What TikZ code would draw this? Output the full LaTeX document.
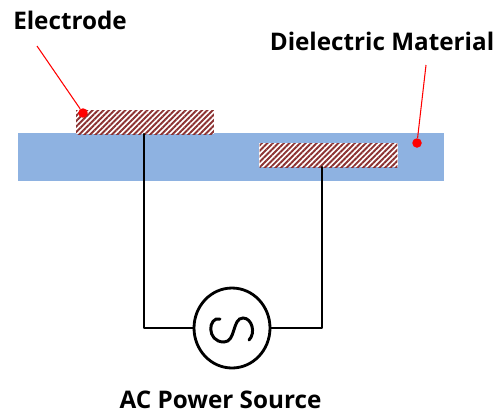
\documentclass[tikz,border=0pt]{standalone}
\usepackage{fontspec}
\setmainfont{Open Sans}
\usetikzlibrary{patterns.meta,shapes.geometric}
\definecolor{slabblue}{RGB}{142,178,225}
\definecolor{hatchred}{RGB}{140,50,50}
\tikzset{
  caption/.style={font=\bfseries\fontsize{13.8}{15}\selectfont,text=black,inner sep=0pt},
  electrode/.style={minimum width=2.76cm,minimum height=0.48cm,inner sep=0pt,
    pattern={Lines[angle=45,distance=2.2pt,line width=1.1pt]},pattern color=hatchred},
  leader/.style={red,line width=0.6pt},
  reddot/.style={circle,fill=red,minimum size=0.19cm,inner sep=0pt},
  wire/.style={line width=1.3pt,line cap=round,line join=round}
}
\begin{document}
\begin{tikzpicture}[x=0.02cm,y=-0.02cm]
    \useasboundingbox (0,0) rectangle (502,416);
    \fill[slabblue] (18,133) rectangle (444,181);
    \fill[white] (76,110) rectangle (214,134);
    \fill[white] (259,143) rectangle (398,167);
    \node[electrode] (elecA) at (145,122) {};
    \node[electrode] (elecB) at (328.5,155) {};
    \node[caption] (labelA) at (70,20) {Electrode};
    \node[caption] (labelB) at (382,41) {Dielectric Material};
    \node[caption] (labelC) at (220.5,400) {AC Power Source};
    \node[reddot] (dotA) at (83,113) {};
    \node[reddot] (dotB) at (417,143) {};
    \coordinate (tipA) at (37,46);
    \coordinate (tipB) at (426,65);
    \draw[leader] (tipA) -- (dotA);
    \draw[leader] (tipB) -- (dotB);
    \node[draw,ellipse,line width=1.6pt,minimum width=1.52cm,minimum height=1.6cm,inner sep=0pt] (src) at (232,328) {};
    \coordinate (tapA) at (144,134);
    \coordinate (tapB) at (322,167);
    \draw[wire] (tapA) |- (src.west);
    \draw[wire] (tapB) |- (src.east);
    \draw[line width=1.7pt,line cap=round] (220,319) .. controls (208,316) and (206,342) .. (224,342) .. controls (236,342) and (232,318) .. (243,318) .. controls (252,318) and (256,333) .. (249,340);
\end{tikzpicture}
\end{document}
